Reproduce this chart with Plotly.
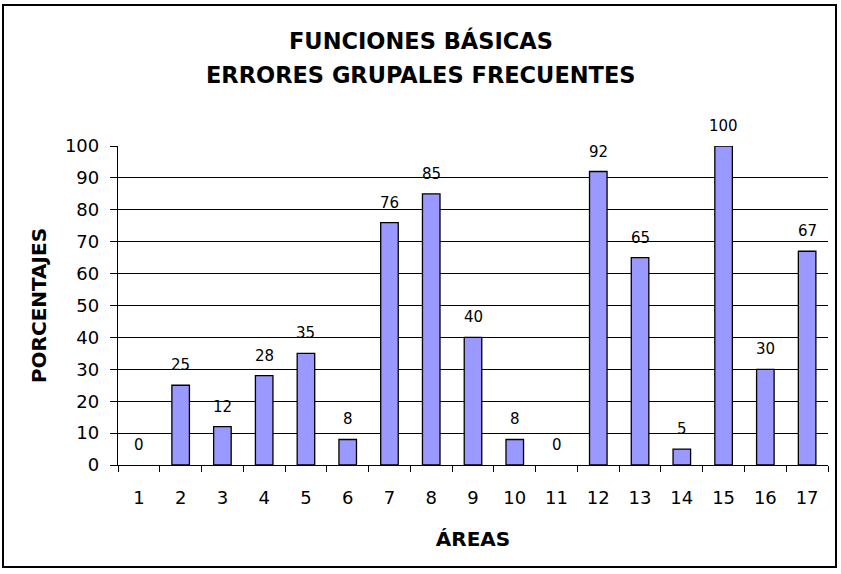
import plotly.graph_objects as go

areas = [str(i) for i in range(1, 18)]
porcentajes = [0, 25, 12, 28, 35, 8, 76, 85, 40, 8, 0, 92, 65, 5, 100, 30, 67]
y_ticks = list(range(0, 101, 10))

title_line1 = "FUNCIONES BÁSICAS"
title_line2 = "ERRORES GRUPALES FRECUENTES"
x_title = "ÁREAS"
y_title = "PORCENTAJES"

W, H = 841, 574
L, R, T, B = 118, 13, 146, 109
PW, PH = W - L - R, H - T - B

def px_x(p):
    return (p - L) / PW

def px_y(p):
    return (H - B - p) / PH

FONT = "DejaVu Sans, sans-serif"

fig = go.Figure()
fig.add_trace(go.Bar(
    x=areas, y=porcentajes, width=0.42,
    marker=dict(color="#9999FF",
                line=dict(color="black", width=[0 if v == 0 else 1.3 for v in porcentajes])),
    showlegend=False, hoverinfo="x+y",
))

annotations = []
for i, v in enumerate(porcentajes):
    annotations.append(dict(x=i, y=v, xref="x", yref="y", text=str(v), showarrow=False,
                            yanchor="middle", yshift=20, font=dict(size=15, color="black", family=FONT)))
annotations.append(dict(x=px_x(420.5), y=px_y(40), xref="paper", yref="paper", text=f"<b>{title_line1}</b>",
                        showarrow=False, xanchor="center", yanchor="middle",
                        font=dict(size=22.5, color="black", family=FONT)))
annotations.append(dict(x=px_x(420.5), y=px_y(75), xref="paper", yref="paper", text=f"<b>{title_line2}</b>",
                        showarrow=False, xanchor="center", yanchor="middle",
                        font=dict(size=22.5, color="black", family=FONT)))

fig.update_layout(
    width=W, height=H,
    margin=dict(l=L, r=R, t=T, b=B, pad=0),
    paper_bgcolor="white", plot_bgcolor="white",
    font=dict(family=FONT, color="black", size=16),
    annotations=annotations,
    shapes=[dict(type="rect", xref="paper", yref="paper",
                 x0=px_x(3), x1=px_x(836), y0=px_y(567), y1=px_y(5),
                 line=dict(color="black", width=2), fillcolor="rgba(0,0,0,0)", layer="below")],
)

fig.update_xaxes(
    type="category", range=[-0.5, len(areas) - 0.5], tickson="boundaries",
    ticks="outside", ticklen=6, tickwidth=1.3, tickcolor="black",
    showline=True, linecolor="black", linewidth=1.3, showgrid=False,
    tickfont=dict(size=18, family=FONT, color="black"), ticklabelstandoff=16,
    title=dict(text=f"<b>{x_title}</b>", font=dict(size=20, family=FONT, color="black"), standoff=25),
)
fig.update_yaxes(
    range=[0, 100], tickvals=y_ticks, ticks="outside", ticklen=7, tickwidth=1.3, tickcolor="black",
    showline=True, linecolor="black", linewidth=1.3,
    showgrid=True, gridcolor="black", gridwidth=1.2, zeroline=False,
    tickfont=dict(size=18, family=FONT, color="black"), ticklabelstandoff=7,
    title=dict(text=f"<b>{y_title}</b>", font=dict(size=20, family=FONT, color="black"), standoff=12),
)

fig.write_html("out.html", config={"displayModeBar": False},
               post_script="document.body.style.margin='0px';")
